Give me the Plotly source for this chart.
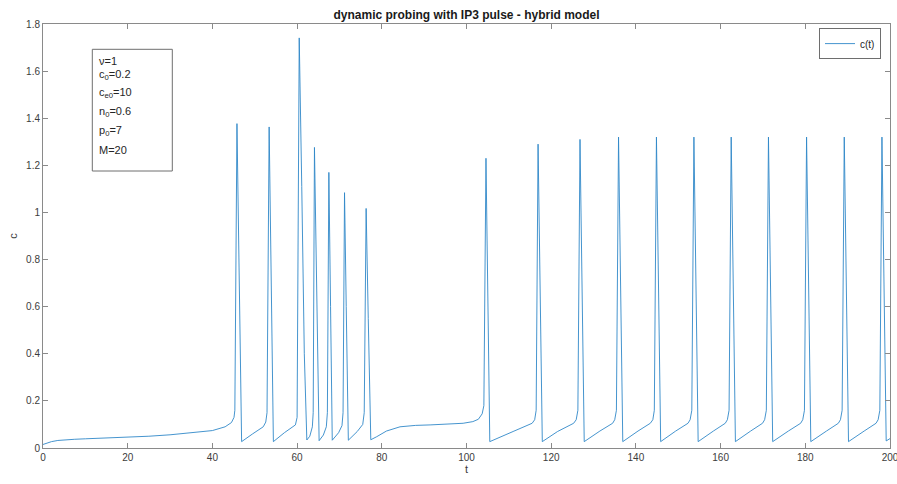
import plotly.graph_objects as go

# ---- data ----
t_vals = [
    0, 1, 2, 3.5, 5, 7.5, 10, 15, 20, 25, 30, 35, 40, 43, 44.5, 45.1, 45.3,
    45.8, 46.3, 46.6, 46.9,
    49.5, 52.0, 52.6, 52.9,
    53.4, 53.9, 54.1, 54.4,
    57.0, 59.6, 60.0,
    60.5, 61.1, 61.7, 62.3,
    63.0, 63.6, 63.8,
    64.1, 64.6, 64.9, 65.2,
    66.2, 66.9, 67.15,
    67.5, 67.9, 68.1, 68.3,
    69.8, 70.6, 70.85,
    71.2, 71.6, 71.85, 72.1,
    74.2, 75.5, 75.85,
    76.3, 76.8, 77.1, 77.4,
    78.8, 81.1, 84.3, 88, 91.4, 95, 99.2, 101.5, 102.8, 103.7, 104.1,
    104.6, 105.0, 105.25, 105.5,
    111.0, 115.5, 116.1, 116.45,
    116.9, 117.4, 117.65, 117.9,
    121.5, 125.3, 125.9, 126.3,
    126.8, 127.3, 127.55, 127.8,
    131.5, 134.5, 135.0, 135.4,
    135.9, 136.4, 136.65, 136.9,
    140.5, 143.4, 144.0, 144.35,
    144.85, 145.3, 145.55, 145.85,
    149.4, 152.3, 152.8, 153.2,
    153.7, 154.2, 154.45, 154.7,
    158.3, 161.1, 161.6, 162.0,
    162.5, 163.0, 163.25, 163.5,
    167.1, 169.9, 170.4, 170.8,
    171.3, 171.8, 172.05, 172.3,
    176.0, 178.9, 179.4, 179.8,
    180.3, 180.8, 181.05, 181.3,
    185.0, 187.8, 188.3, 188.7,
    189.2, 189.7, 189.95, 190.2,
    193.9, 196.7, 197.2, 197.6,
    198.1, 198.6, 198.85, 199.1, 200,
]
c_vals = [
    0.015, 0.022, 0.027, 0.032, 0.035, 0.037, 0.039, 0.042, 0.045, 0.050, 0.056, 0.064, 0.074, 0.090, 0.108, 0.13, 0.16,
    1.377, 0.80, 0.38, 0.027,
    0.06, 0.09, 0.11, 0.15,
    1.363, 0.78, 0.38, 0.027,
    0.065, 0.098, 0.13,
    1.741, 1.11, 0.40, 0.034,
    0.05, 0.09, 0.15,
    1.276, 0.70, 0.30, 0.031,
    0.055, 0.09, 0.15,
    1.17, 0.60, 0.28, 0.033,
    0.065, 0.095, 0.15,
    1.084, 0.60, 0.28, 0.033,
    0.07, 0.10, 0.15,
    1.017, 0.55, 0.25, 0.035,
    0.048, 0.072, 0.09, 0.096, 0.098, 0.10, 0.105, 0.112, 0.122, 0.145, 0.18,
    1.23, 0.70, 0.30, 0.027,
    0.07, 0.105, 0.12, 0.16,
    1.29, 0.72, 0.30, 0.027,
    0.07, 0.105, 0.12, 0.16,
    1.31, 0.72, 0.30, 0.027,
    0.072, 0.105, 0.12, 0.16,
    1.32, 0.72, 0.30, 0.027,
    0.072, 0.105, 0.12, 0.16,
    1.32, 0.72, 0.30, 0.027,
    0.072, 0.105, 0.12, 0.16,
    1.32, 0.72, 0.30, 0.027,
    0.072, 0.105, 0.12, 0.16,
    1.32, 0.72, 0.30, 0.027,
    0.072, 0.105, 0.12, 0.16,
    1.32, 0.72, 0.30, 0.027,
    0.072, 0.105, 0.12, 0.16,
    1.32, 0.72, 0.30, 0.027,
    0.072, 0.105, 0.12, 0.16,
    1.32, 0.72, 0.30, 0.027,
    0.072, 0.105, 0.12, 0.16,
    1.32, 0.72, 0.30, 0.03, 0.04,
]
x_ticks = [0, 20, 40, 60, 80, 100, 120, 140, 160, 180, 200]
y_ticks = [0, 0.2, 0.4, 0.6, 0.8, 1, 1.2, 1.4, 1.6, 1.8]
param_lines = ["ν=1", "c<sub>0</sub>=0.2", "c<sub>e0</sub>=10",
               "n<sub>0</sub>=0.6", "p<sub>0</sub>=7", "M=20"]

W, H = 897, 484
L, R, T, B = 43, 7, 24, 36
PW, PH = W - L - R, H - T - B

def px_x(px):
    return (px - L) / PW

def px_y(py):
    return (H - B - py) / PH

FONT = "Liberation Sans, Arial, sans-serif"
AX = "#8a8a8a"
TXT = "#3c3c3c"

fig = go.Figure()
fig.add_trace(go.Scatter(x=t_vals, y=c_vals, mode="lines", name="c(t)",
                         line=dict(color="#3088c8", width=0.9)))

axis_common = dict(showline=True, linecolor=AX, linewidth=1, mirror="allticks",
                   ticks="inside", ticklen=5, tickcolor=AX, tickwidth=1,
                   showgrid=False, zeroline=False, ticklabeloverflow="allow",
                   automargin=False,
                   tickfont=dict(family=FONT, size=10, color=TXT))

fig.update_xaxes(range=[0, 200], tickvals=x_ticks,
                 title=dict(text="t", font=dict(family=FONT, size=11, color=TXT), standoff=3),
                 **axis_common)
fig.update_yaxes(range=[0, 1.8], tickvals=y_ticks,
                 title=dict(text="c", font=dict(family=FONT, size=11, color=TXT), standoff=6),
                 **axis_common)

# parameter text box
fig.add_shape(type="rect", xref="paper", yref="paper",
              x0=px_x(92.3), x1=px_x(172.3), y0=px_y(171), y1=px_y(49.3),
              line=dict(color="#6e6e6e", width=1), fillcolor="white")
line_py = [61.0, 74.5, 93.5, 112.2, 131.2, 149.5]
for txt, py in zip(param_lines, line_py):
    fig.add_annotation(xref="paper", yref="paper", x=px_x(96.5), y=px_y(py),
                       xanchor="left", yanchor="middle", text=txt, showarrow=False,
                       font=dict(family=FONT, size=11, color="#262626"))

fig.update_layout(
    width=W, height=H,
    margin=dict(l=L, r=R, t=T, b=B),
    paper_bgcolor="white", plot_bgcolor="white",
    title=dict(text="<b>dynamic probing with IP3 pulse - hybrid model</b>",
               x=px_x(466.5), xref="paper", xanchor="center",
               y=1 - 15 / H, yanchor="middle", automargin=False,
               font=dict(family=FONT, size=12, color="#1a1a1a")),
    showlegend=True,
    legend=dict(x=px_x(881), y=px_y(43.6), xanchor="right", yanchor="middle",
                bgcolor="white", bordercolor="#6e6e6e", borderwidth=1,
                font=dict(family=FONT, size=10, color="#262626"),
                itemwidth=30, tracegroupgap=0),
)

fig.write_html("out.html")
